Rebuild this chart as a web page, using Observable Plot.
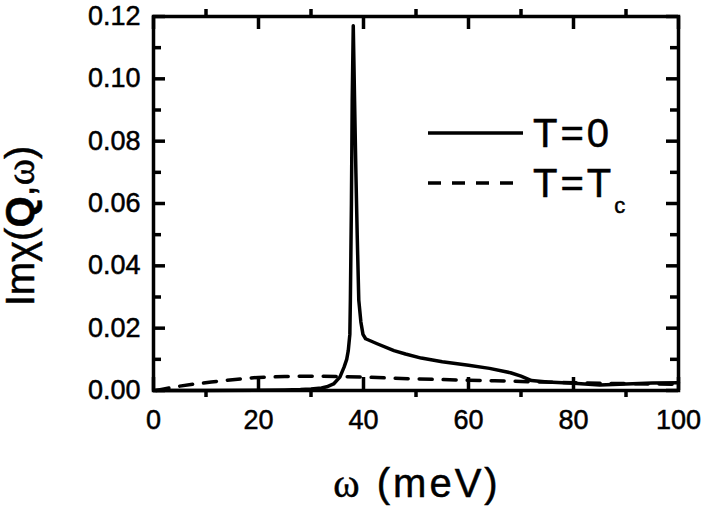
<!DOCTYPE html>
<html><head><meta charset="utf-8">
<script src="https://cdn.jsdelivr.net/npm/d3@7"></script>
<script src="https://cdn.jsdelivr.net/npm/@observablehq/plot@0.6"></script>
<style>body{margin:0;background:#fff;}</style>
</head><body><div id="chart"></div>
<script>
// T = 0 curve
const omegaT0 = [0, 10, 20, 25, 28, 30, 32, 33, 34.3, 35.5, 36.3, 36.8, 37.1, 37.4, 37.5, 37.7, 37.85, 38.05, 38.3, 38.55, 38.8, 39.1, 39.5, 39.9, 40.4, 42.6, 45.8, 48, 51, 55, 60, 64, 68, 70, 72, 75, 80, 85, 90, 95, 100];
const imT0 = [0, 0, 0.0001, 0.0002, 0.0003, 0.0005, 0.0008, 0.0012, 0.0021, 0.0043, 0.0075, 0.0100, 0.0128, 0.018, 0.029, 0.060, 0.093, 0.117, 0.093, 0.070, 0.050, 0.029, 0.022, 0.018, 0.0166, 0.0150, 0.0128, 0.0117, 0.0104, 0.0092, 0.0081, 0.0071, 0.0057, 0.0046, 0.0032, 0.0027, 0.0023, 0.0018, 0.0021, 0.0024, 0.0025];
// T = Tc curve
const omegaTc = [0.5, 2, 5, 8, 11, 14, 17, 20, 25, 30, 35, 40, 45, 50, 55, 60, 65, 70, 75, 80, 85, 90, 95, 100];
const imTc = [0, 0.0005, 0.0014, 0.0021, 0.0027, 0.0033, 0.0038, 0.0042, 0.0045, 0.0046, 0.0045, 0.0043, 0.0040, 0.0037, 0.0035, 0.0033, 0.0031, 0.0029, 0.0027, 0.0025, 0.0023, 0.0022, 0.0021, 0.0020];

const xMajor = [0, 20, 40, 60, 80, 100];
const xMinor = [10, 30, 50, 70, 90];
const yMajor = [0, 0.02, 0.04, 0.06, 0.08, 0.10, 0.12];
const yMinor = [0.01, 0.03, 0.05, 0.07, 0.09, 0.11];
const legendLabels = ["T=0", "T=T", "c"];

const W = 706, H = 510, mL = 153, mR = 28, mT = 16, mB = 120;
const iw = W - mL - mR, ih = H - mT - mB;
const t0 = omegaT0.map((x, i) => ({x, y: imT0[i]}));
const tc = omegaTc.map((x, i) => ({x, y: imTc[i]}));
const FONT = "'Liberation Sans', Arial, sans-serif";
const SW = 3.5;

const plot = Plot.plot({
  width: W, height: H,
  marginLeft: mL, marginRight: mR, marginTop: mT, marginBottom: mB,
  x: {domain: [0, 100]},
  y: {domain: [0, 0.12]},
  style: {fontFamily: FONT, background: "#fff", color: "#000"},
  marks: [
    Plot.line(t0, {x: "x", y: "y", stroke: "#000", strokeWidth: SW}),
    Plot.line(tc, {x: "x", y: "y", stroke: "#000", strokeWidth: SW, strokeDasharray: "13,11"}),
    Plot.tickX(xMajor, {x: d => d, insetTop: ih - 13, strokeWidth: SW}),
    Plot.tickX(xMajor, {x: d => d, insetBottom: ih - 13, strokeWidth: SW}),
    Plot.tickX(xMinor, {x: d => d, insetTop: ih, insetBottom: -7, strokeWidth: SW}),
    Plot.tickX(xMinor, {x: d => d, insetBottom: ih, insetTop: -7, strokeWidth: SW}),
    Plot.tickY(yMajor, {y: d => d, insetRight: iw - 12, strokeWidth: SW}),
    Plot.tickY(yMajor, {y: d => d, insetLeft: iw - 12, strokeWidth: SW}),
    Plot.tickY(yMinor, {y: d => d, insetRight: iw - 8, strokeWidth: SW}),
    Plot.tickY(yMinor, {y: d => d, insetLeft: iw - 8, strokeWidth: SW}),
    Plot.axisX({ticks: xMajor, tickSize: 0, tickPadding: 19, fontSize: 27, label: null}),
    Plot.axisY({ticks: yMajor, tickSize: 0, tickPadding: 13, fontSize: 27, tickFormat: d3.format(".2f"), label: null}),
    Plot.frame({strokeWidth: SW})
  ]
});

const svg = d3.select(plot);
svg.selectAll("g[aria-label='x-axis tick label'] text, g[aria-label='y-axis tick label'] text")
  .attr("stroke", "#000").attr("stroke-width", 0.5);
// y title
const yt = svg.append("text")
  .attr("transform", "translate(34,226) rotate(-90)")
  .attr("text-anchor", "middle")
  .attr("stroke", "#000").attr("stroke-width", 0.5)
  .style("font-family", FONT).style("font-size", "40px").attr("fill", "#000");
yt.append("tspan").text("Imχ(");
yt.append("tspan").style("font-weight", "bold").text("Q");
yt.append("tspan").text(",");
yt.append("tspan").style("font-family", "'Liberation Serif', serif").text("ω");
yt.append("tspan").text(")");
// x title
const xt = svg.append("text")
  .attr("x", 417).attr("y", 497)
  .attr("text-anchor", "middle")
  .attr("stroke", "#000").attr("stroke-width", 0.5)
  .style("font-family", FONT).style("font-size", "40px").style("letter-spacing", "3px").attr("fill", "#000");
xt.append("tspan").style("font-family", "'Liberation Serif', serif").text("ω");
xt.append("tspan").text(" (meV)");
// legend
svg.append("line").attr("x1", 428).attr("x2", 523).attr("y1", 133).attr("y2", 133)
  .attr("stroke", "#000").attr("stroke-width", SW);
svg.append("line").attr("x1", 428).attr("x2", 520).attr("y1", 183).attr("y2", 183)
  .attr("stroke", "#000").attr("stroke-width", SW).attr("stroke-dasharray", "13,11");
svg.append("text").attr("x", 533).attr("y", 147).attr("text-anchor", "start")
  .attr("stroke", "#000").attr("stroke-width", 0.5)
  .style("font-family", FONT).style("font-size", "40px").style("letter-spacing", "3px").attr("fill", "#000").text(legendLabels[0]);
const lt = svg.append("text").attr("x", 533).attr("y", 197).attr("text-anchor", "start")
  .attr("stroke", "#000").attr("stroke-width", 0.5)
  .style("font-family", FONT).style("font-size", "40px").style("letter-spacing", "3px").attr("fill", "#000");
lt.append("tspan").text(legendLabels[1]);
lt.append("tspan").attr("dy", 16).style("font-size", "22px").text(legendLabels[2]);

document.getElementById("chart").appendChild(plot);
</script>
</body></html>
